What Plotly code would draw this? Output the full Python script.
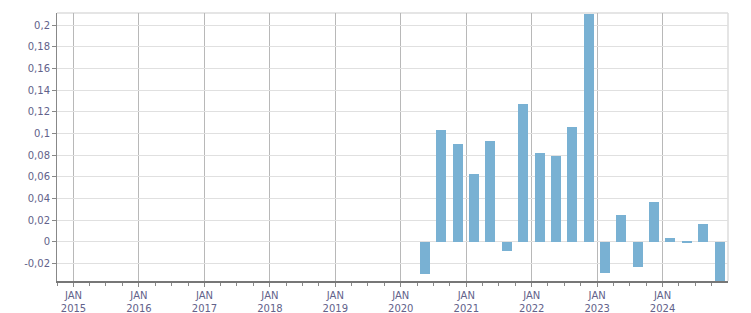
import plotly.graph_objects as go

quarters = ["2020-05-15", "2020-08-15", "2020-11-15", "2021-02-14",
            "2021-05-15", "2021-08-15", "2021-11-15", "2022-02-14",
            "2022-05-15", "2022-08-15", "2022-11-15", "2023-02-14",
            "2023-05-15", "2023-08-15", "2023-11-15", "2024-02-14",
            "2024-05-15", "2024-08-15", "2024-11-15"]
values = [-0.0295, 0.1035, 0.0905, 0.0625, 0.0925, -0.0082, 0.1275, 0.0815,
          0.0795, 0.1055, 0.2105, -0.0285, 0.0248, -0.0233, 0.0368, 0.0036,
          -0.0006, 0.0165, -0.045]

year_ticks = ["%d-01-01" % y for y in range(2015, 2025)]
year_labels = ["JAN<br>%d" % y for y in range(2015, 2025)]
y_ticks = [-0.02, 0, 0.02, 0.04, 0.06, 0.08, 0.1, 0.12, 0.14, 0.16, 0.18, 0.2]
y_labels = ["-0,02", "0", "0,02", "0,04", "0,06", "0,08", "0,1", "0,12",
            "0,14", "0,16", "0,18", "0,2"]

label_color = "#62628a"

fig = go.Figure()
fig.add_trace(go.Bar(
    x=quarters, y=values,
    width=4.8e9,
    marker=dict(color="#79b1d3", line=dict(width=0)),
    hoverinfo="x+y",
))

fig.update_layout(
    width=751, height=313,
    margin=dict(l=57, r=23, t=13, b=32),
    paper_bgcolor="white", plot_bgcolor="white",
    font=dict(family="DejaVu Sans", size=10, color=label_color),
    showlegend=False,
    bargap=0,
    shapes=[
        dict(type="line", xref="paper", yref="paper", x0=1, x1=1, y0=0, y1=1,
             line=dict(color="#dddddd", width=1.5), layer="below"),
        dict(type="line", xref="paper", yref="paper", x0=0, x1=1, y0=1, y1=1,
             line=dict(color="#dddddd", width=1.5), layer="below"),
    ],
)

fig.update_xaxes(
    type="date",
    automargin=False,
    range=["2014-10-01", "2024-12-31"],
    tickmode="array", tickvals=year_ticks, ticktext=year_labels,
    showgrid=True, gridcolor="#b8b8b8", gridwidth=1,
    showline=True, linecolor="#777777", linewidth=2,
    ticks="outside", ticklen=4, tickcolor="#888888",
    minor=dict(dtick="M3", tick0="2015-01-01", ticks="outside", ticklen=3,
               tickcolor="#888888", showgrid=False),
    tickfont=dict(family="DejaVu Sans", size=10, color=label_color),
    zeroline=False,
)

fig.update_yaxes(
    automargin=False,
    range=[-0.0363, 0.2111],
    tickmode="array", tickvals=y_ticks, ticktext=y_labels,
    showgrid=True, gridcolor="#e0e0e0", gridwidth=1,
    showline=True, linecolor="#888888", linewidth=1,
    ticks="outside", ticklen=4, tickcolor="#888888",
    tickfont=dict(family="DejaVu Sans", size=10, color=label_color),
    zeroline=False,
)

fig.write_html("out.html")
